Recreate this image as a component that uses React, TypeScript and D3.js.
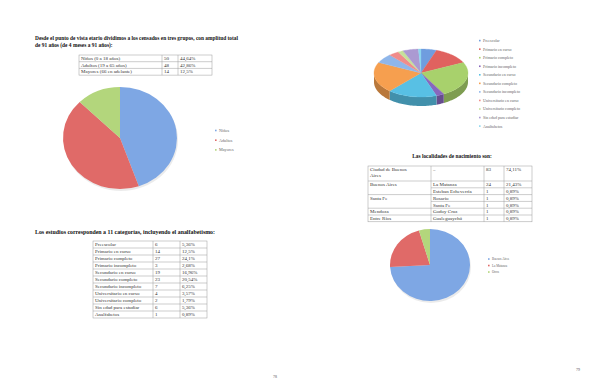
import React from 'react';
import * as d3 from 'd3';

const grupos = ['Niños (0 a 18 años)', 'Adultos (19 a 65 años)', 'Mayores (66 en adelante)'];
const gruposN = [50, 48, 14];
const gruposPct = ['44,64%', '42,86%', '12,5%'];
const gruposLeyenda = ['Niños', 'Adultos', 'Mayores'];

const estudios = [
  'Preescolar', 'Primario en curso', 'Primario completo', 'Primario incompleto',
  'Secundario en curso', 'Secundario completo', 'Secundario incompleto',
  'Universitario en curso', 'Universitario completo', 'Sin edad para estudiar', 'Analfabetos',
];
const estudiosN = [6, 14, 27, 3, 19, 23, 7, 4, 2, 6, 1];
const estudiosPct = ['5,36%', '12,5%', '24,1%', '2,68%', '16,96%', '20,54%', '6,25%', '3,57%', '1,79%', '5,36%', '0,89%'];

const provincias = ['Ciudad de Buenos Aires', 'Buenos Aires', '', 'Santa Fe', '', 'Mendoza', 'Entre Ríos'];
const localidades = ['–', 'La Matanza', 'Esteban Echeverría', 'Rosario', 'Santa Fe', 'Godoy Cruz', 'Gualeguaychú'];
const localidadesN = [83, 24, 1, 1, 1, 1, 1];
const localidadesPct = ['74,11%', '21,43%', '0,89%', '0,89%', '0,89%', '0,89%', '0,89%'];

const origenLeyenda = ['Buenos Aires', 'La Matanza', 'Otros'];
const origenN = [83, 24, 5];

const pie3Colors = ['#7ea7e4', '#e06a68', '#b3d67c'];
const estudiosColors = [
  '#6f9ddf', '#e0625f', '#a8d16c', '#8867bd', '#58c0e4', '#f69f4f',
  '#8fb6ea', '#f08c8a', '#c6e19a', '#ab9ad2', '#8dd6ee',
];

const FONT = '"Liberation Serif", "DejaVu Serif", serif';
const LINE = '#9a9a9a';

function FlatPie({ values, colors, cx, cy, rx, ry }: any) {
  const arcs = d3.pie<number>().sort(null)(values);
  const arc = d3.arc<any>().innerRadius(0).outerRadius(1);
  return (
    <g>
      <ellipse cx={cx + 1} cy={cy + 2} rx={rx} ry={ry} fill="#000" opacity={0.08} />
      <g transform={`translate(${cx},${cy}) scale(${rx},${ry})`}>
        {arcs.map((a, i) => (
          <path key={i} d={arc(a) || ''} fill={colors[i]} />
        ))}
      </g>
    </g>
  );
}

function Pie3D({ values, colors, cx, cy, rx, ry, depth }: any) {
  const arcs = d3.pie<number>().sort(null)(values);
  const pt = (a: number, dy = 0) => [cx + rx * Math.sin(a), cy - ry * Math.cos(a) + dy];
  const arcPts = (s: number, e: number, dy = 0) => {
    const n = Math.max(2, Math.ceil((e - s) / 0.03));
    return d3.range(n + 1).map((k) => pt(s + ((e - s) * k) / n, dy));
  };
  const sides: any[] = [];
  arcs.forEach((a, i) => {
    const s = Math.max(a.startAngle, Math.PI / 2);
    const e = Math.min(a.endAngle, (3 * Math.PI) / 2);
    if (e <= s) return;
    const top = arcPts(s, e);
    const bot = arcPts(s, e, depth).reverse();
    const d = 'M' + top.concat(bot).map((p) => p.join(',')).join('L') + 'Z';
    sides.push({ d, c: (d3.color(colors[i]) as any).darker(0.8).toString() });
  });
  return (
    <g>
      {sides.map((s, i) => (
        <path key={'s' + i} d={s.d} fill={s.c} />
      ))}
      {arcs.map((a, i) => {
        const p = arcPts(a.startAngle, a.endAngle);
        const d = `M${cx},${cy}L` + p.map((q) => q.join(',')).join('L') + 'Z';
        return <path key={i} d={d} fill={colors[i]} stroke={colors[i]} strokeWidth={0.3} />;
      })}
    </g>
  );
}

function Legend({ labels, colors, x, y, step, size }: any) {
  return (
    <g>
      {labels.map((l: string, i: number) => (
        <g key={i}>
          <rect x={x} y={y + i * step - size * 0.55} width={1.6} height={1.6} fill={colors[i]} />
          <text x={x + 4} y={y + i * step} fontSize={size} fill="#666" fontFamily={FONT}>{l}</text>
        </g>
      ))}
    </g>
  );
}

function Table({ x, y, cols, rows, rowH }: any) {
  const w = cols[cols.length - 1];
  const h = rowH * rows.length;
  return (
    <g transform={`translate(${x},${y})`} fontFamily={FONT} fontSize={5} fill="#333">
      <rect x={0} y={0} width={w} height={h} fill="none" stroke={LINE} strokeWidth={0.5} />
      {cols.slice(1, -1).map((c: number, i: number) => (
        <line key={'c' + i} x1={c} x2={c} y1={0} y2={h} stroke={LINE} strokeWidth={0.5} />
      ))}
      {rows.map((r: string[], i: number) => (
        <g key={i}>
          {i > 0 && <line x1={0} x2={w} y1={i * rowH} y2={i * rowH} stroke={LINE} strokeWidth={0.5} />}
          {r.map((t, j) => (
            <text key={j} x={cols[j] + 2} y={i * rowH + rowH * 0.75}>{t}</text>
          ))}
        </g>
      ))}
    </g>
  );
}

function TableLocalidades({ x, y }: any) {
  const cols = [0, 63, 116, 136, 164];
  const firstH = 15;
  const rowH = 6.8;
  const ys = [0, firstH];
  for (let i = 1; i < provincias.length; i++) ys.push(firstH + i * rowH);
  const h = ys[ys.length - 1];
  const w = cols[4];
  return (
    <g transform={`translate(${x},${y})`} fontFamily={FONT} fontSize={5} fill="#333">
      <rect x={0} y={0} width={w} height={h} fill="none" stroke={LINE} strokeWidth={0.5} />
      {cols.slice(1, -1).map((c, i) => (
        <line key={'c' + i} x1={c} x2={c} y1={0} y2={h} stroke={LINE} strokeWidth={0.5} />
      ))}
      {provincias.map((p, i) => {
        const y0 = ys[i];
        const ty = i === 0 ? 5 : y0 + rowH * 0.75;
        return (
          <g key={i}>
            {i > 0 && (
              <line x1={p === '' ? cols[1] : 0} x2={w} y1={y0} y2={y0} stroke={LINE} strokeWidth={0.5} />
            )}
            {i === 0 ? (
              <text x={2} y={ty}>
                <tspan x={2}>Ciudad de Buenos</tspan>
                <tspan x={2} dy={6.2}>Aires</tspan>
              </text>
            ) : (
              <text x={2} y={ty}>{p}</text>
            )}
            <text x={cols[1] + 2} y={ty}>{localidades[i]}</text>
            <text x={cols[2] + 2} y={ty}>{localidadesN[i]}</text>
            <text x={cols[3] + 2} y={ty}>{localidadesPct[i]}</text>
          </g>
        );
      })}
    </g>
  );
}

export default function App() {
  const rows1 = grupos.map((g, i) => [g, String(gruposN[i]), gruposPct[i]]);
  const rows2 = estudios.map((g, i) => [g, String(estudiosN[i]), estudiosPct[i]]);
  return (
    <div style={{ position: 'fixed', left: 0, top: 0 }}>
      <svg width={600} height={388} style={{ display: 'block', background: '#fff' }}>
        <rect width={600} height={388} fill="#fff" />
        <g fontFamily={FONT} fontWeight="bold" fontSize={5.4} fill="#111">
          <text x={35} y={40} textLength={203} lengthAdjust="spacingAndGlyphs">
            Desde el punto de vista etario dividimos a los censados en tres grupos, con amplitud total
          </text>
          <text x={35} y={47}>de 91 años (de 4 meses a 91 años):</text>
          <text x={35} y={234} textLength={180} lengthAdjust="spacingAndGlyphs">
            Los estudios corresponden a 11 categorías, incluyendo el analfabetismo:
          </text>
          <text x={452} y={158} textAnchor="middle">Las localidades de nacimiento son:</text>
        </g>

        <Table x={79} y={55} cols={[0, 83, 99, 133]} rows={rows1} rowH={6.7} />
        <FlatPie values={gruposN} colors={pie3Colors} cx={120} cy={138} rx={57} ry={51} />
        <Legend labels={gruposLeyenda} colors={pie3Colors} x={215} y={132} step={9.7} size={4.2} />

        <Table x={93} y={241} cols={[0, 60, 87, 114]} rows={rows2} rowH={7} />

        <Pie3D values={estudiosN} colors={estudiosColors} cx={421} cy={73} rx={47} ry={24} depth={9} />
        <Legend labels={estudios} colors={estudiosColors} x={479} y={42} step={8.55} size={4} />

        <TableLocalidades x={368} y={166} />

        <FlatPie values={origenN} colors={pie3Colors} cx={430} cy={265} rx={40} ry={36} />
        <Legend labels={origenLeyenda} colors={pie3Colors} x={488} y={260} step={6.5} size={3.2} />

        <g fontFamily={FONT} fontSize={4} fill="#555">
          <text x={275} y={378} textAnchor="middle">78</text>
          <text x={578} y={371} textAnchor="middle">79</text>
        </g>
      </svg>
    </div>
  );
}
